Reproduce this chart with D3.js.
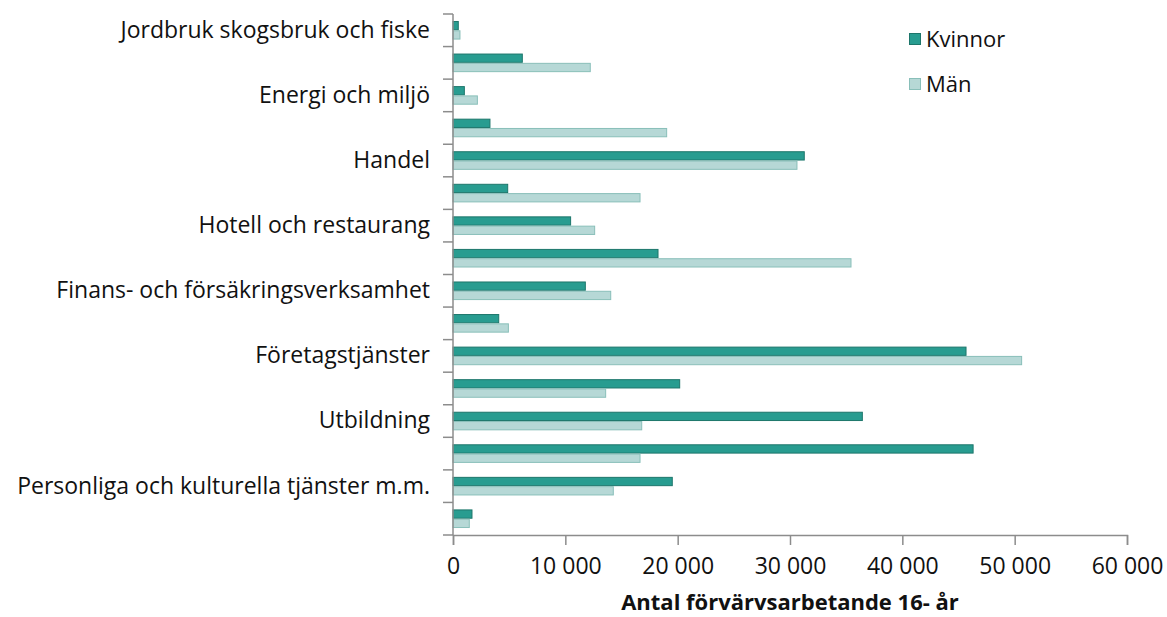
<!DOCTYPE html>
<html>
<head>
<meta charset="utf-8">
<script src="https://cdn.jsdelivr.net/npm/d3@7"></script>
<style>
    body { margin: 0; background: #fff; }
    svg text { font-family: "Open Sans", "Noto Sans", sans-serif; fill: #111; }
</style>
</head>
<body>
<div id="chart"></div>
<script>
// Branscher (bara varannan etikett visas i originalet)
const categories = [
    "Jordbruk skogsbruk och fiske",
    "Tillverkning och utvinning",
    "Energi och miljö",
    "Byggverksamhet",
    "Handel",
    "Transport och magasinering",
    "Hotell och restaurang",
    "Information och kommunikation",
    "Finans- och försäkringsverksamhet",
    "Fastighetsverksamhet",
    "Företagstjänster",
    "Offentlig förvaltning och försvar",
    "Utbildning",
    "Vård och omsorg",
    "Personliga och kulturella tjänster m.m.",
    "Okänd verksamhet"
];
const kvinnor = [470, 6170, 1010, 3290, 31270, 4870, 10470, 18250, 11780, 4070, 45670, 20180, 36440, 46300, 19520, 1690];
const man = [620, 12220, 2170, 19020, 30620, 16650, 12610, 35430, 14040, 4930, 50620, 13590, 16800, 16650, 14270, 1450];
const seriesNames = ["Kvinnor", "Män"];
const xTicks = [0, 10000, 20000, 30000, 40000, 50000, 60000];
const xTitle = "Antal förvärvsarbetande 16- år";

const width = 1167, height = 617;
const plotLeft = 453, plotRight = 1127, plotTop = 14, plotBottom = 535;
const fontFam = "'Open Sans', 'Noto Sans', sans-serif";

const fills = { "Kvinnor": "#289c90", "Män": "#b6d8d6" };
const strokes = { "Kvinnor": "#1d766b", "Män": "#89bfb9" };

const svg = d3.select("#chart").append("svg")
    .attr("width", width)
    .attr("height", height);

const x = d3.scaleLinear().domain([0, 60000]).range([plotLeft, plotRight]);
const y = d3.scaleBand().domain(categories).range([plotTop, plotBottom]).padding(0);

// höjd för gruppen med två staplar
const groupH = 18.6;
const y1 = d3.scaleBand().domain(seriesNames)
    .range([(y.bandwidth() - groupH) / 2, (y.bandwidth() + groupH) / 2]);

const rows = categories.map((c, i) => ({ cat: c, values: { "Kvinnor": kvinnor[i], "Män": man[i] } }));

// Staplar
const groups = svg.append("g").selectAll("g")
    .data(rows)
    .enter()
    .append("g")
    .attr("transform", d => `translate(0,${y(d.cat)})`);

groups.selectAll("rect")
    .data(d => seriesNames.map(s => ({ s: s, v: d.values[s] })))
    .enter()
    .append("rect")
    .attr("x", x(0))
    .attr("y", d => y1(d.s) + 0.5)
    .attr("width", d => x(d.v) - x(0))
    .attr("height", y1.bandwidth() - 1)
    .attr("fill", d => fills[d.s])
    .attr("stroke", d => strokes[d.s])
    .attr("stroke-width", 1);

// Y-axel: linje, streck vid gränser och etiketter
const axisColor = "#8c8c8c";
svg.append("line")
    .attr("x1", plotLeft).attr("x2", plotLeft)
    .attr("y1", plotTop).attr("y2", plotBottom)
    .attr("stroke", axisColor).attr("stroke-width", 1.5);

const bounds = categories.map(c => y(c)).concat([plotBottom]);
svg.append("g").selectAll("line")
    .data(bounds)
    .enter()
    .append("line")
    .attr("x1", plotLeft - 10).attr("x2", plotLeft)
    .attr("y1", d => d).attr("y2", d => d)
    .attr("stroke", axisColor).attr("stroke-width", 1.5);

const yAxis = svg.append("g")
    .attr("transform", `translate(${plotLeft},0)`)
    .call(d3.axisLeft(y)
        .tickSize(0)
        .tickPadding(23)
        .tickFormat((d, i) => i % 2 === 0 ? d : ""));
yAxis.select(".domain").remove();
yAxis.selectAll("text")
    .style("font-size", "23px")
    .style("font-family", fontFam);

// X-axel
const fmt = d3.formatLocale({ decimal: ",", thousands: " ", grouping: [3], currency: ["", " kr"] }).format(",d");
const xAxis = svg.append("g")
    .attr("transform", `translate(0,${plotBottom})`)
    .call(d3.axisBottom(x)
        .tickValues(xTicks)
        .tickSize(10)
        .tickFormat(fmt));
xAxis.select(".domain").attr("stroke", axisColor).attr("stroke-width", 1.5);
xAxis.selectAll(".tick line").attr("stroke", axisColor).attr("stroke-width", 1.5);
xAxis.selectAll("text")
    .attr("y", 39)
    .attr("dy", 0)
    .style("font-size", "23px")
    .style("font-family", fontFam);

svg.append("text")
    .attr("x", (plotLeft + plotRight) / 2)
    .attr("y", 610)
    .attr("text-anchor", "middle")
    .style("font-size", "22px")
    .style("font-weight", "bold")
    .text(xTitle);

// Legend
const legend = svg.append("g").selectAll("g")
    .data(seriesNames)
    .enter()
    .append("g")
    .attr("transform", (d, i) => `translate(909,${33 + i * 45})`);

legend.append("rect")
    .attr("x", 0.5).attr("y", 0.5)
    .attr("width", 11).attr("height", 11)
    .attr("fill", d => fills[d])
    .attr("stroke", d => strokes[d]);

legend.append("text")
    .attr("x", 17)
    .attr("y", 6)
    .attr("dy", "0.35em")
    .style("font-size", "22px")
    .text(d => d);
</script>
</body>
</html>
